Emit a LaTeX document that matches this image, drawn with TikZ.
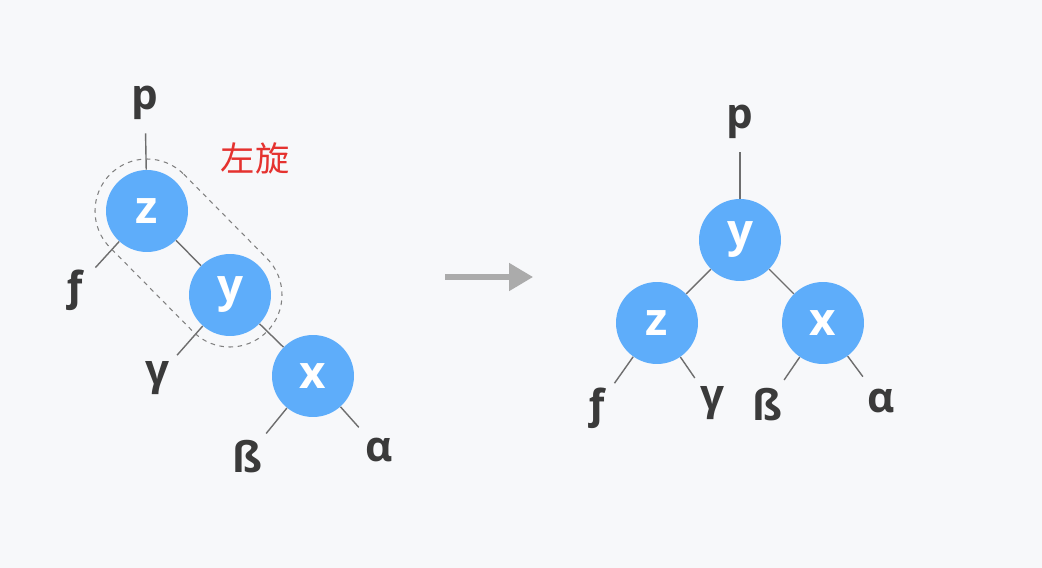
\documentclass[tikz,border=0pt]{standalone}
\usepackage{fontspec}
\setmainfont{Open Sans}
\newfontfamily\cjk{Noto Sans CJK SC}
\usepackage{xcolor}
\usetikzlibrary{calc, arrows.meta}

\definecolor{nodeblue}{HTML}{5EADFA}
\definecolor{edgegray}{HTML}{6E6E6E}
\definecolor{labelgray}{HTML}{3A3A3A}
\definecolor{arrowgray}{HTML}{ABABAB}
\definecolor{bggray}{HTML}{F7F8FA}
\definecolor{rotred}{HTML}{E5322F}

\tikzset{
	treenode/.style = {circle, fill = nodeblue, minimum size = 1.64cm, inner sep = 0pt,
		text = white, font = \fontsize{26}{28}\selectfont\bfseries},
	leaf/.style = {circle, minimum size = 1.2cm, inner sep = 0pt,
		text = labelgray, font = \fontsize{24}{26}\selectfont\bfseries},
	edge/.style = {edgegray, line width = 0.8pt},
	capsule/.style = {gray, line width = 0.6pt, dash pattern = on 2.6pt off 2.6pt},
}

\begin{document}
\begin{tikzpicture}[x = 0.02cm, y = -0.02cm]
		\def\R{52};
		
		\fill [bggray] (0,0) rectangle (1042,568);
		\useasboundingbox (0,0) rectangle (1042,568);
		
		% before the rotation
		\node [treenode] (z1) at (147,211) {z};
		\node [treenode] (y1) at (230,295) {y};
		\node [treenode] (x1) at (313,376) {x};
		
		\node [leaf] (p1) at (145,103) {p};
		\node [leaf] (f1) at (75,290) {ƒ};
		\node [leaf] (g1) at (157,378) {γ};
		\node [leaf] (b1) at (247,457) {ß};
		\node [leaf] (a1) at (379,450) {α};
		
		\draw [edge] (p1) -- (z1);
		\draw [edge] (z1) -- (f1);
		\draw [edge] (z1) -- (y1);
		\draw [edge] (y1) -- (g1);
		\draw [edge] (y1) -- (x1);
		\draw [edge] (x1) -- (b1);
		\draw [edge] (x1) -- (a1);
		
		\draw [capsule] ($(z1) + (-45:\R)$) -- ($(y1) + (-45:\R)$)
			arc [start angle = -45, end angle = 135, radius = \R]
			-- ($(z1) + (135:\R)$)
			arc [start angle = 135, end angle = 315, radius = \R] -- cycle;
		
		\node [rotred, font = \cjk\fontsize{19.5}{22}\selectfont] (rot) at (255,158) {左旋};
		
		% arrow
		\coordinate (from) at (445,277);
		\coordinate (to) at (533,277);
		\draw [arrowgray, line width = 2.9pt, -{Triangle[length = 13.6pt, width = 15.3pt]}] (from) -- (to);
		
		% after the rotation
		\node [treenode] (y2) at (740,240) {y};
		\node [treenode] (z2) at (657,323) {z};
		\node [treenode] (x2) at (823,323) {x};
		
		\node [leaf] (p2) at (740,122) {p};
		\node [leaf] (f2) at (597,408) {ƒ};
		\node [leaf] (g2) at (712,403) {γ};
		\node [leaf] (b2) at (767,405) {ß};
		\node [leaf] (a2) at (881,401) {α};
		
		\draw [edge] (p2) -- (y2);
		\draw [edge] (y2) -- (z2);
		\draw [edge] (y2) -- (x2);
		\draw [edge] (z2) -- (f2);
		\draw [edge] (z2) -- (g2);
		\draw [edge] (x2) -- (b2);
		\draw [edge] (x2) -- (a2);
	\end{tikzpicture}
\end{document}
